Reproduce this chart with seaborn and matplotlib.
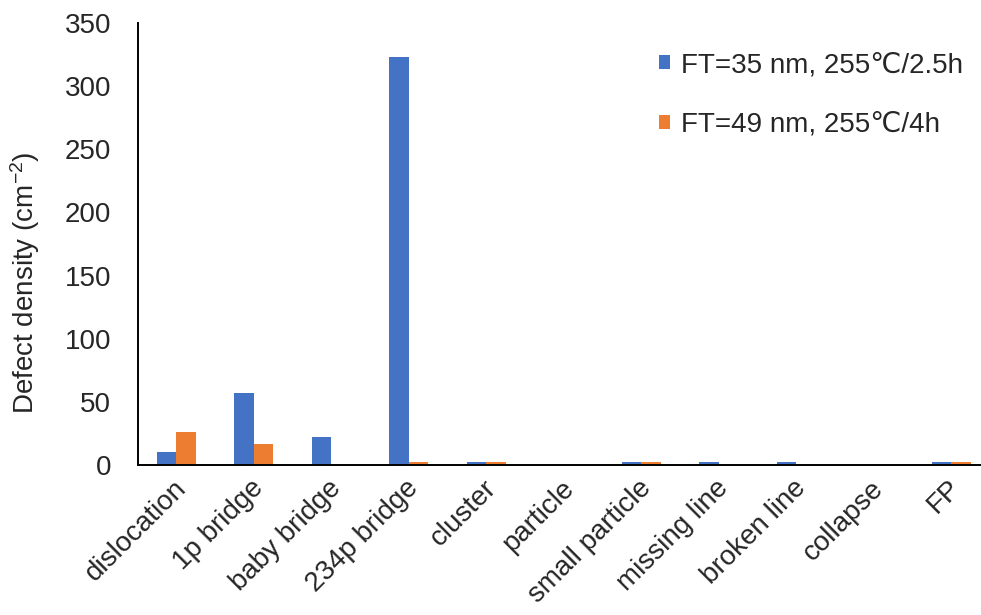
import matplotlib
matplotlib.use("Agg")
import matplotlib.pyplot as plt
import matplotlib.transforms as mtransforms
import seaborn as sns
import pandas as pd

# Defect categories and densities (cm^-2) for the two process conditions
categories = ["dislocation", "1p bridge", "baby bridge", "234p bridge", "cluster",
              "particle", "small particle", "missing line", "broken line",
              "collapse", "FP"]
series_names = ["FT=35 nm, 255\u2103/2.5h", "FT=49 nm, 255\u2103/4h"]
ft35_values = [10, 57, 22, 323, 2, 0, 2, 2, 2, 0, 2]
ft49_values = [26, 17, 0, 2, 2, 0, 2, 0, 0, 0, 2]
y_ticks = [0, 50, 100, 150, 200, 250, 300, 350]
colors = ["#4472C4", "#ED7D31"]

df = pd.DataFrame({
    "category": categories * 2,
    "series": [series_names[0]] * len(categories) + [series_names[1]] * len(categories),
    "value": ft35_values + ft49_values,
})

sns.set_style("white")
plt.rcParams["font.family"] = ["Liberation Sans", "DejaVu Sans"]
plt.rcParams["mathtext.fontset"] = "custom"
plt.rcParams["mathtext.rm"] = "Liberation Sans"
plt.rcParams["mathtext.default"] = "regular"

FS = 20

fig = plt.figure(figsize=(9.81, 6.15), dpi=100)
ax = fig.add_axes([137.5 / 981, 150 / 615, 852.5 / 981, 442 / 615])

sns.barplot(data=df, x="category", y="value", hue="series", order=categories,
            hue_order=series_names, palette=colors, saturation=1, width=0.5,
            linewidth=0, ax=ax)

ax.set_ylim(0, 350)
ax.set_yticks(y_ticks)
ax.set_xlim(-0.5, len(categories) - 0.5)

for side in ["top", "right"]:
    ax.spines[side].set_visible(False)
for side in ["left", "bottom"]:
    ax.spines[side].set_color("black")
    ax.spines[side].set_linewidth(1.4)

ax.tick_params(axis="y", length=0, pad=19, labelsize=FS)
ax.tick_params(axis="x", length=0, pad=14, labelsize=FS)
ax.set_xlabel("")
ax.set_ylabel("Defect density (cm$^{-2}$)", fontsize=FS)
ax.yaxis.set_label_coords(-0.112, 0.412)

shift = mtransforms.ScaledTranslation(0.06, 0, fig.dpi_scale_trans)
for lab in ax.get_xticklabels():
    lab.set_rotation(45)
    lab.set_ha("right")
    lab.set_va("center")
    lab.set_rotation_mode("anchor")
    lab.set_transform(lab.get_transform() + shift)

ax.legend(loc="upper left", bbox_to_anchor=(659 / 981, 1 - 52 / 615),
          bbox_transform=fig.transFigure, frameon=False, fontsize=FS,
          borderpad=0, borderaxespad=0, handlelength=0.4, handleheight=0.4,
          handletextpad=0.4, labelspacing=1.22, title=None)

fig.savefig("out.png", dpi=100)
